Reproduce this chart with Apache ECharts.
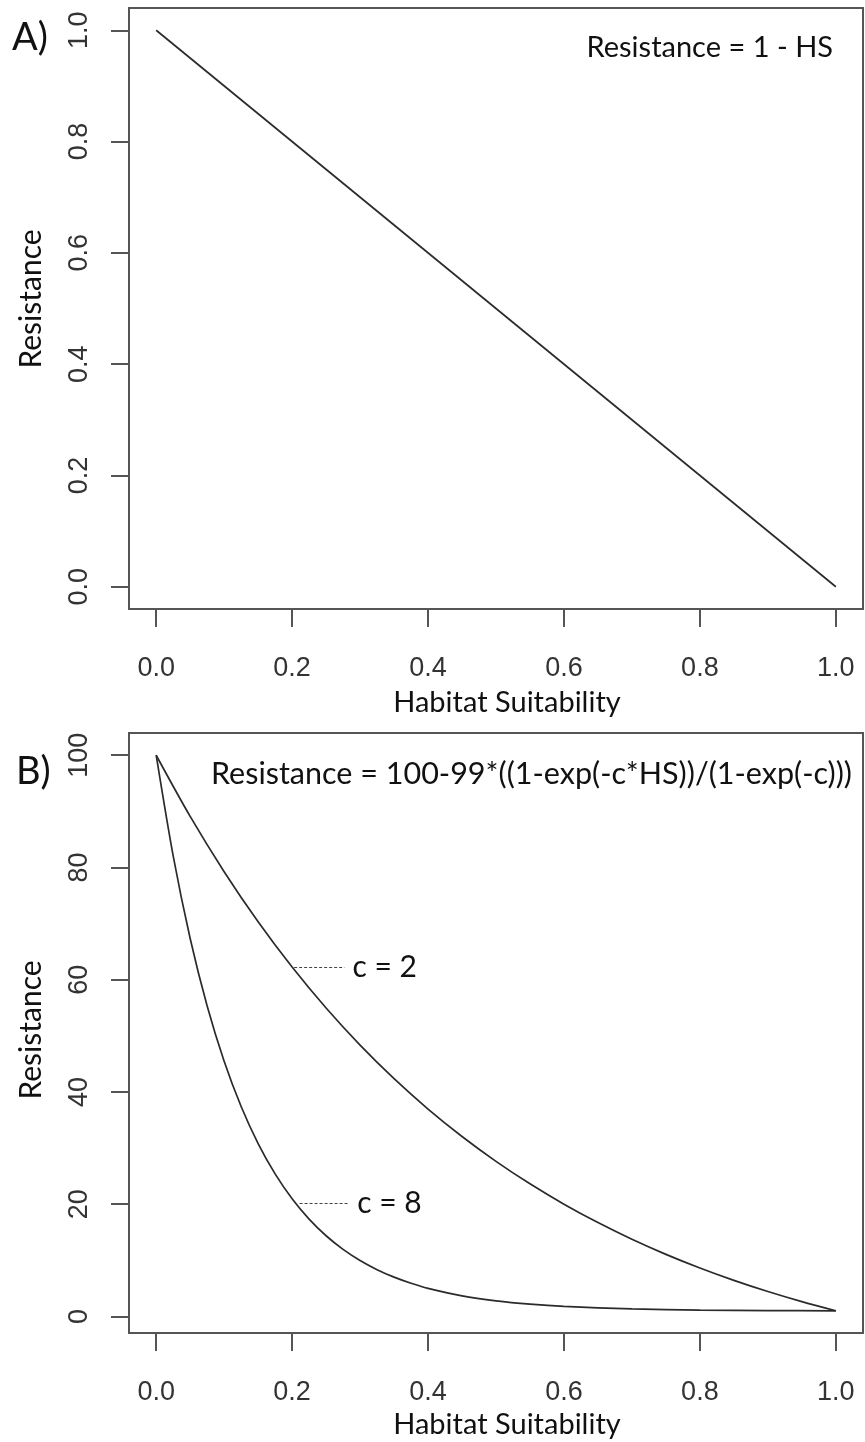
<!DOCTYPE html>
<html>
<head>
<meta charset="utf-8">
<script src="https://cdn.jsdelivr.net/npm/echarts@6/dist/echarts.min.js"></script>
<style>
html,body{margin:0;padding:0;background:#fff;}
#chart{width:865px;height:1442px;}
</style>
</head>
<body>
<div id="chart"></div>
<script>
// ---- data ----
const xTicks = [0, 0.2, 0.4, 0.6, 0.8, 1.0];
const yTicksA = [0, 0.2, 0.4, 0.6, 0.8, 1.0];
const yTicksB = [0, 20, 40, 60, 80, 100];

const hsA = [0, 1];
const resA = [1, 0];

const hsC2 = [0, 0.05, 0.1, 0.15, 0.2, 0.25, 0.3, 0.35, 0.4, 0.45, 0.5, 0.55, 0.6, 0.65, 0.7, 0.75, 0.8, 0.85, 0.9, 0.95, 1.0];
const resC2 = [100, 89.10, 79.25, 70.32, 62.25, 54.95, 48.34, 42.36, 36.95, 32.06, 27.63, 23.62, 19.99, 16.71, 13.74, 11.05, 8.62, 6.42, 4.43, 2.63, 1.00];

const hsC8 = [0, 0.025, 0.05, 0.075, 0.1, 0.125, 0.15, 0.175, 0.2, 0.225, 0.25, 0.275, 0.3, 0.325, 0.35, 0.375, 0.4, 0.45, 0.5, 0.55, 0.6, 0.7, 0.8, 0.9, 1.0];
const resC8 = [100, 82.05, 67.35, 55.32, 45.47, 37.40, 30.80, 25.39, 20.96, 17.34, 14.37, 11.94, 9.95, 8.32, 6.99, 5.90, 5.00, 3.67, 2.78, 2.18, 1.78, 1.33, 1.13, 1.04, 1.00];

// leader lines: [x start, x end, y]
const leaderC2 = [0.203, 0.277, 62.25];
const leaderC8 = [0.211, 0.284, 20.2];

const panelLabels = ['A)', 'B)'];
const formulaA = 'Resistance = 1 - HS';
const formulaB = 'Resistance = 100-99*((1-exp(-c*HS))/(1-exp(-c)))';
const xTitle = 'Habitat Suitability';
const yTitle = 'Resistance';

// ---- chart ----
const zip = (xs, ys) => xs.map((x, i) => [x, ys[i]]);
const tickFont = {fontFamily: '"Liberation Sans", Arial, sans-serif', fontSize: 27, color: '#333'};
const txtFont = '"Lato", "Open Sans", sans-serif';
const lineCol = '#2b2b2b';

function xAxis(gi) {
  return {
    type: 'value', gridIndex: gi, min: -0.04, max: 1.04,
    axisLine: {show: false, onZero: false},
    splitLine: {show: false},
    axisTick: {show: true, inside: false, length: 18, customValues: xTicks, lineStyle: {color: '#555', width: 2}},
    axisLabel: Object.assign({customValues: xTicks, margin: 46, formatter: v => v.toFixed(1)}, tickFont)
  };
}
function yAxis(gi, min, max, ticks, fmt) {
  return {
    type: 'value', gridIndex: gi, min: min, max: max,
    axisLine: {show: false, onZero: false},
    splitLine: {show: false},
    axisTick: {show: true, inside: false, length: 18, customValues: ticks, lineStyle: {color: '#555', width: 2}},
    axisLabel: Object.assign({customValues: ticks, rotate: 90, margin: 36, formatter: fmt}, tickFont)
  };
}
function leader(l, txt) {
  return {
    silent: true, symbol: ['none', 'none'],
    lineStyle: {type: [3, 2], color: '#444', width: 1},
    label: {show: true, position: 'end', formatter: txt, fontFamily: txtFont, fontSize: 30, color: '#111', distance: 8},
    data: [[{coord: [l[0], l[2]]}, {coord: [l[1], l[2]]}]]
  };
}

const chart = echarts.init(document.getElementById('chart'), null, {renderer: 'canvas'});
chart.setOption({
  backgroundColor: '#fff',
  animation: false,
  grid: [
    {left: 129, top: 8, width: 734, height: 601, show: true, borderColor: '#555', borderWidth: 2, backgroundColor: 'transparent'},
    {left: 129, top: 733, width: 734, height: 600, show: true, borderColor: '#555', borderWidth: 2, backgroundColor: 'transparent'}
  ],
  xAxis: [xAxis(0), xAxis(1)],
  yAxis: [
    yAxis(0, -0.04, 1.04, yTicksA, v => v.toFixed(1)),
    yAxis(1, -2.96, 103.96, yTicksB, v => String(Math.round(v)))
  ],
  series: [
    {type: 'line', xAxisIndex: 0, yAxisIndex: 0, data: zip(hsA, resA), showSymbol: false, lineStyle: {color: lineCol, width: 1.7}},
    {type: 'line', xAxisIndex: 1, yAxisIndex: 1, data: zip(hsC2, resC2), showSymbol: false, smooth: 0.3, lineStyle: {color: lineCol, width: 1.7}, markLine: leader(leaderC2, 'c = 2')},
    {type: 'line', xAxisIndex: 1, yAxisIndex: 1, data: zip(hsC8, resC8), showSymbol: false, smooth: 0.3, lineStyle: {color: lineCol, width: 1.7}, markLine: leader(leaderC8, 'c = 8')}
  ],
  graphic: [
    {type: 'text', left: 12, top: 19, style: {text: panelLabels[0], font: '38px ' + txtFont, fill: '#111'}},
    {type: 'text', left: 16, top: 753, style: {text: panelLabels[1], font: '38px ' + txtFont, fill: '#111'}},
    {type: 'text', x: 833, y: 48, style: {text: formulaA, font: '29px ' + txtFont, fill: '#111', align: 'right', verticalAlign: 'middle'}},
    {type: 'text', x: 852, y: 774, style: {text: formulaB, font: '30.5px ' + txtFont, fill: '#111', align: 'right', verticalAlign: 'middle'}},
    {type: 'text', x: 507, y: 703, style: {text: xTitle, font: '29px ' + txtFont, fill: '#111', align: 'center', verticalAlign: 'middle'}},
    {type: 'text', x: 507, y: 1425, style: {text: xTitle, font: '29px ' + txtFont, fill: '#111', align: 'center', verticalAlign: 'middle'}},
    {type: 'text', x: 31, y: 299, rotation: Math.PI / 2, style: {text: yTitle, font: '30px ' + txtFont, fill: '#111', align: 'center', verticalAlign: 'middle'}},
    {type: 'text', x: 31, y: 1030, rotation: Math.PI / 2, style: {text: yTitle, font: '30px ' + txtFont, fill: '#111', align: 'center', verticalAlign: 'middle'}}
  ]
});
</script>
</body>
</html>
